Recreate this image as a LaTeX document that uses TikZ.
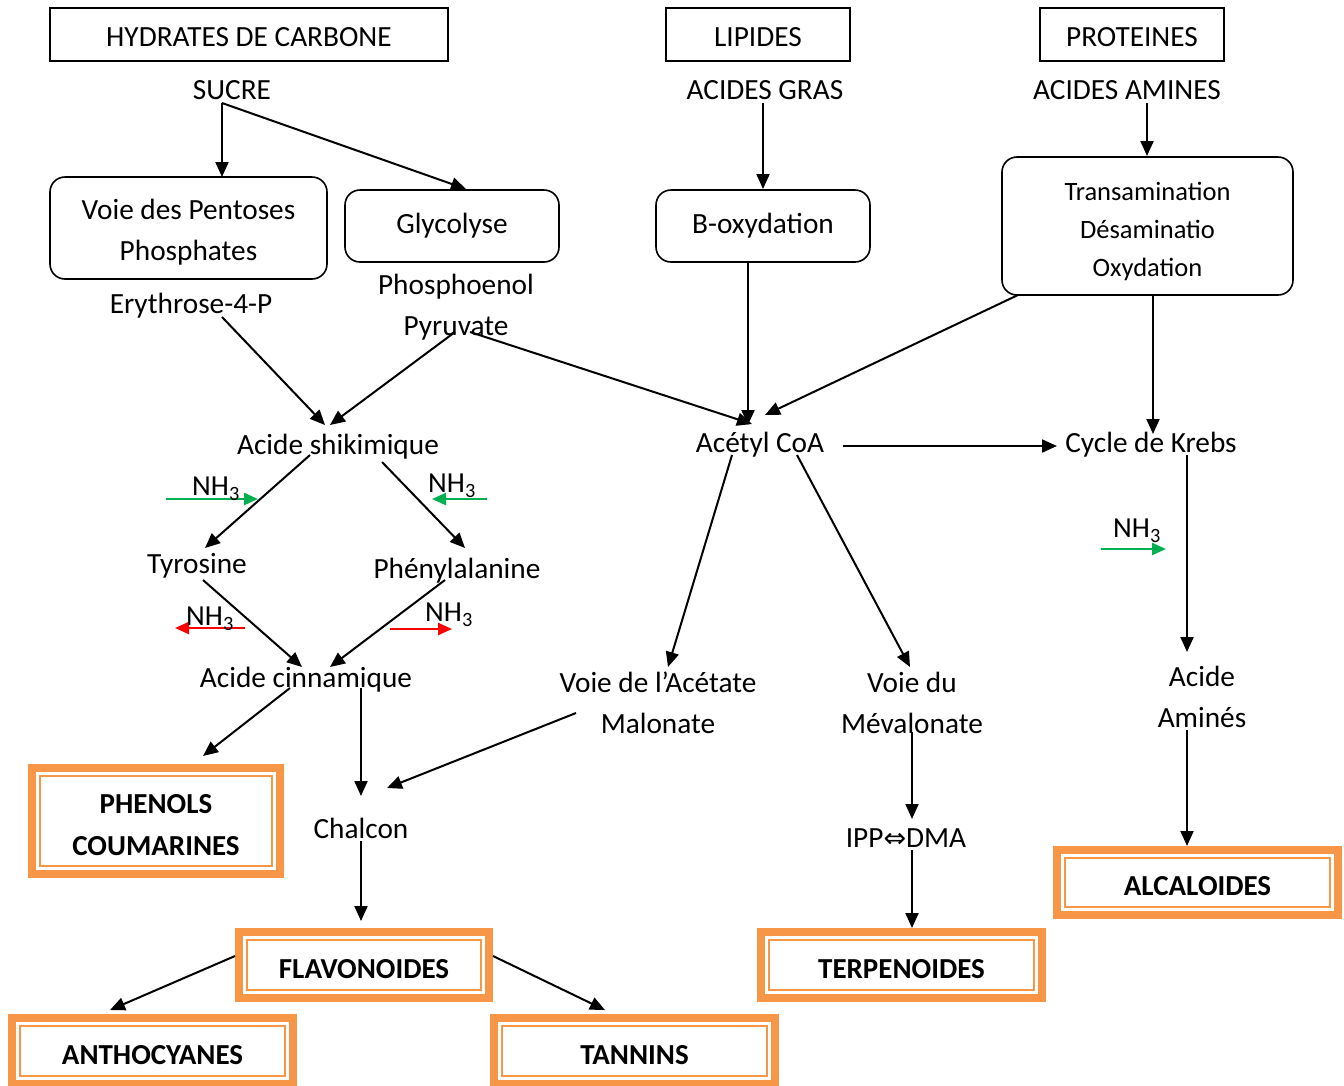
\documentclass[tikz,border=0pt]{standalone}
\usepackage{fontspec}
\setmainfont{Carlito}
\newfontfamily\djv{DejaVu Sans}
\usetikzlibrary{arrows.meta,calc}
\definecolor{obox}{HTML}{F79646}
\definecolor{nhgreen}{HTML}{00B050}
\definecolor{nhred}{HTML}{FF0000}
\newcommand\obx[5]{%
  \node[draw=obox, line width=8pt, outer sep=0pt, minimum width=#3pt-8pt, minimum height=#4pt-8pt, inner sep=0pt] (#1) at #2 {};
  \draw[draw=obox, line width=2pt] ($(#1.north west)+(8,8)$) rectangle ($(#1.south east)+(-8,-8)$);
  \node[align=center, font=\fontsize{29}{42}\selectfont\bfseries] (#1-t) at ($#2+(0,4)$) {#5};
}
\begin{document}
\begin{tikzpicture}[x=1pt,y=-1pt,
  every node/.style={font=\fontsize{29.3}{41}\selectfont, inner sep=0pt},
  sbox/.style={draw, line width=1.6pt},
  rbox/.style={draw, line width=1.6pt, rounded corners=15pt},
  txt/.style={align=center},
  arr/.style={line width=2pt, -{Triangle[length=15pt,width=13pt]}},
  nh/.style={line width=2.4pt, -{Triangle[length=14pt,width=12pt]}},
  nhl/.style={font=\fontsize{29}{30}\selectfont}]
\useasboundingbox (0,0) rectangle (1344,1085);
\clip (0,0) rectangle (1344,1085);

% top boxes
\node[sbox, minimum width=398pt, minimum height=53pt] (hc) at (249,34.5) {};
\node[txt] (hct) at (249,37) {HYDRATES DE CARBONE};
\node[sbox, minimum width=184pt, minimum height=53pt] (lip) at (758,34.5) {};
\node[txt] (lipt) at (758,37) {LIPIDES};
\node[sbox, minimum width=184pt, minimum height=53pt] (prot) at (1132,34.5) {};
\node[txt] (prott) at (1132,37) {PROTEINES};

\node[txt] (sucre) at (232,90) {SUCRE};
\node[txt] (agras) at (765,90) {ACIDES GRAS};
\node[txt] (aam) at (1127,90) {ACIDES AMINES};

\node[rbox, minimum width=277pt, minimum height=102pt] (pent) at (188.5,228) {};
\node[txt] (pentt) at (188.5,232) {Voie des Pentoses\\Phosphates};
\node[rbox, minimum width=214pt, minimum height=72pt] (gly) at (452,226) {};
\node[txt] (glyt) at (452,226) {Glycolyse};
\node[rbox, minimum width=214pt, minimum height=72pt] (box) at (763,226) {};
\node[txt] (boxt) at (763,226) {B-oxydation};
\node[rbox, minimum width=291pt, minimum height=138pt] (trans) at (1147.5,226) {};
\node[txt, font=\fontsize{26.5}{38}\selectfont] (transt) at (1147.5,231) {Transamination\\Désaminatio\\Oxydation};

\node[txt] (phos) at (456,307) {Phosphoenol\\Pyruvate};
\node[txt] (ery) at (191,306) {Erythrose-4-P};

\node[txt] (shik) at (338,447) {Acide shikimique};
\node[txt] (acetyl) at (760,445) {Acétyl CoA};
\node[txt] (krebs) at (1151,445) {Cycle de Krebs};

\node[txt] (tyr) at (197,566) {Tyrosine};
\node[txt] (phe) at (457,571) {Phénylalanine};
\node[txt] (cinn) at (306,680) {Acide cinnamique};
\node[txt] (acet) at (658,703) {Voie de l’Acétate\\Malonate};
\node[txt] (meva) at (912,703) {Voie du\\Mévalonate};
\node[txt] (aam2) at (1202,697) {Acide\\Aminés};
\node[txt] (chalcon) at (361,828) {Chalcon};
\node[txt] (ipp) at (906,838) {IPP{\djv\fontsize{27}{30}\selectfont ⇔}DMA};

% orange boxes
\obx{phenols}{(156,821)}{256}{114}{PHENOLS\\COUMARINES}
\obx{flav}{(364,965)}{258}{74}{FLAVONOIDES}
\obx{terp}{(901.5,965)}{289}{74}{TERPENOIDES}
\obx{alc}{(1197.5,882.5)}{289}{73}{ALCALOIDES}
\obx{antho}{(152.5,1051)}{289}{74}{ANTHOCYANES}
\obx{tannins}{(634.5,1051)}{289}{74}{TANNINS}

% connectors
\draw[arr] ([shift={(-10,13)}]sucre.center) -- ([shift={(33.5,-51)}]pent.center);
\draw[arr] ([shift={(-10,13)}]sucre.center) -- ([shift={(14,-37)}]gly.center);
\draw[arr] ([shift={(-2,13)}]agras.center) -- ([shift={(0,-37)}]box.center);
\draw[arr] ([shift={(20,13)}]aam.center) -- ([shift={(-0.5,-70)}]trans.center);
\draw[arr] ([shift={(31,11)}]ery.center) -- ([shift={(-13,-22)}]shik.center);
\draw[arr] ([shift={(-1,25)}]phos.center) -- ([shift={(-8,-22)}]shik.center);
\draw[arr] ([shift={(14,25)}]phos.center) -- ([shift={(-8,-21)}]acetyl.center);
\draw[arr] ([shift={(-15,37)}]box.center) -- ([shift={(-12,-20)}]acetyl.center);
\draw[arr] ([shift={(-129.5,69)}]trans.center) -- ([shift={(5,-30)}]acetyl.center);
\draw[arr] ([shift={(5.5,69)}]trans.center) -- ([shift={(2,-11)}]krebs.center);
\draw[arr] ([shift={(83,1)}]acetyl.center) -- ([shift={(-94,1)}]krebs.center);
\draw[arr] ([shift={(-28,8)}]shik.center) -- ([shift={(8,-18)}]tyr.center);
\draw[arr] ([shift={(44,15)}]shik.center) -- ([shift={(8,-23)}]phe.center);
\draw[arr] ([shift={(6,14)}]tyr.center) -- ([shift={(-4,-13)}]cinn.center);
\draw[arr] ([shift={(-12,9)}]phe.center) -- ([shift={(24,-13)}]cinn.center);
\draw[arr] ([shift={(-28,10)}]acetyl.center) -- ([shift={(10,-36)}]acet.center);
\draw[arr] ([shift={(37,10)}]acetyl.center) -- ([shift={(-2,-36)}]meva.center);
\draw[arr] ([shift={(36,10)}]krebs.center) -- ([shift={(-15,-45)}]aam2.center);
\draw[arr] ([shift={(-15,33)}]aam2.center) -- ([shift={(-10.5,-36.5)}]alc.center);
\draw[arr] ([shift={(-16,8)}]cinn.center) -- ([shift={(47,-65)}]phenols.center);
\draw[arr] ([shift={(55,8)}]cinn.center) -- ([shift={(0,-32)}]chalcon.center);
\draw[arr] ([shift={(-82,10)}]acet.center) -- ([shift={(26,-40)}]chalcon.center);
\draw[arr] ([shift={(0,13)}]chalcon.center) -- ([shift={(-3,-44)}]flav.center);
\draw[arr] ([shift={(0,29)}]meva.center) -- ([shift={(6,-19)}]ipp.center);
\draw[arr] ([shift={(6,12)}]ipp.center) -- ([shift={(10.5,-37)}]terp.center);
\draw[arr] ([shift={(-129,-9)}]flav.center) -- ([shift={(-42.5,-41)}]antho.center);
\draw[arr] ([shift={(129,-9)}]flav.center) -- ([shift={(-29.5,-41)}]tannins.center);

% NH3 arrows
\coordinate (g1a) at (166,499); \coordinate (g1b) at (258,499);
\draw[nh, nhgreen] (g1a) -- (g1b);
\node[nhl] (n1) at (216,489) {NH\textsubscript{3}};
\coordinate (g2a) at (487,499); \coordinate (g2b) at (432,499);
\draw[nh, nhgreen] (g2a) -- (g2b);
\node[nhl] (n2) at (452,486) {NH\textsubscript{3}};
\coordinate (r1a) at (245,628); \coordinate (r1b) at (175,628);
\draw[nh, nhred] (r1a) -- (r1b);
\node[nhl] (n3) at (210,619) {NH\textsubscript{3}};
\coordinate (r2a) at (390,629); \coordinate (r2b) at (452,629);
\draw[nh, nhred] (r2a) -- (r2b);
\node[nhl] (n4) at (449,615) {NH\textsubscript{3}};
\coordinate (g3a) at (1101,549); \coordinate (g3b) at (1166,549);
\draw[nh, nhgreen] (g3a) -- (g3b);
\node[nhl] (n5) at (1137,531) {NH\textsubscript{3}};
\end{tikzpicture}
\end{document}
